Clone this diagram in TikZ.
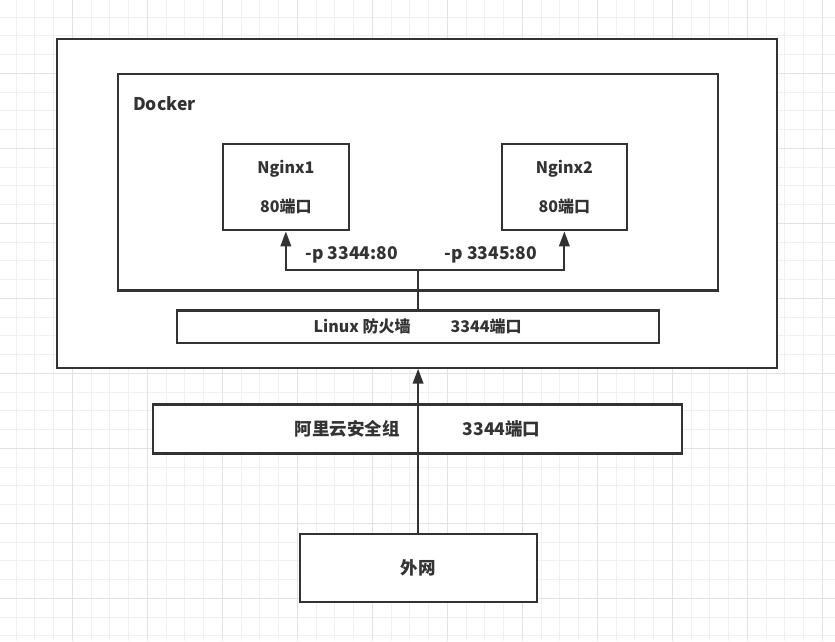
\documentclass[tikz,border=0pt]{standalone}
\usepackage{fontspec}
\setmainfont{Noto Sans CJK SC}
\usepackage{tikz}
\usetikzlibrary{calc,positioning,arrows.meta}
\definecolor{ink}{HTML}{333333}
\definecolor{gridminor}{HTML}{F0F0F0}
\definecolor{gridmajor}{HTML}{E2E2E2}
\tikzset{box/.style={draw=ink,line width=2.2pt,fill=white,inner sep=0pt,anchor=north west},
lbl/.style={font=\bfseries\fontsize{17.5}{20}\selectfont,text=ink,inner sep=0pt}}

\begin{document}
\begin{tikzpicture}[x=1pt,y=-1pt]

\tikzset{wire/.style={draw=ink,line width=2.2pt},
arr/.style={wire,-{Triangle[length=15pt,width=10.5pt]}},
small/.style={font=\bfseries\fontsize{16}{19}\selectfont},
nginx/.style={box,align=center,font=\bfseries\fontsize{16}{39}\selectfont,text=ink,minimum width=125.5pt,minimum height=86.7pt}}

% Canvas
\useasboundingbox (0,0) rectangle (835,641);
\fill[white] (0,0) rectangle (835,641);

% Grid
\foreach \k in {0,...,43} \draw[gridminor,line width=1pt] (16.05+18.75*\k,0) -- ++(0,641);
\foreach \k in {0,...,33} \draw[gridminor,line width=1pt] (0,17.05+18.75*\k) -- ++(835,0);
\foreach \k in {0,...,10} \draw[gridmajor,line width=1pt] (72.3+75*\k,0) -- ++(0,641);
\foreach \k in {0,...,7} \draw[gridmajor,line width=1pt] (0,73.3+75*\k) -- ++(835,0);

% Boxes
\node[box,minimum width=720pt,minimum height=328.5pt] (host) at (56,38) {};
\node[box,minimum width=599.5pt,minimum height=216.8pt] (docker) at (117,72.5) {};
\node[lbl,anchor=west] (dockerlabel) at ($(docker.north west)+(16,31)$) {Docker};
\node[nginx] (nginx1) at (222,142.5) {Nginx1\\80端口};
\node[nginx] (nginx2) at (500.5,142.5) {Nginx2\\80端口};
\node[box,lbl,small,minimum width=482pt,minimum height=32.7pt] (firewall) at (175.5,309.3) {Linux 防火墙\hspace{40pt}3344端口};
\node[box,lbl,minimum width=529pt,minimum height=49pt] (secgroup) at (152,403.3) {阿里云安全组\hspace{63pt}3344端口};
\node[box,lbl,minimum width=237pt,minimum height=68pt] (wan) at (298.5,532.7) {外网};

% Port mapping
\coordinate (split) at (firewall.north |- 0,270);
\draw[wire] (firewall.north) -- (split);
\draw[arr] (split) -- node[lbl,above=6pt] (map1) {-p 3344:80} (split -| nginx1.south) -- (nginx1.south);
\draw[arr] (split) -- node[lbl,above=6pt] (map2) {-p 3345:80} (split -| nginx2.south) -- (nginx2.south);

% Outside traffic
\draw[arr] (wan.north) -- (wan.north |- host.south);

\end{tikzpicture}
\end{document}
